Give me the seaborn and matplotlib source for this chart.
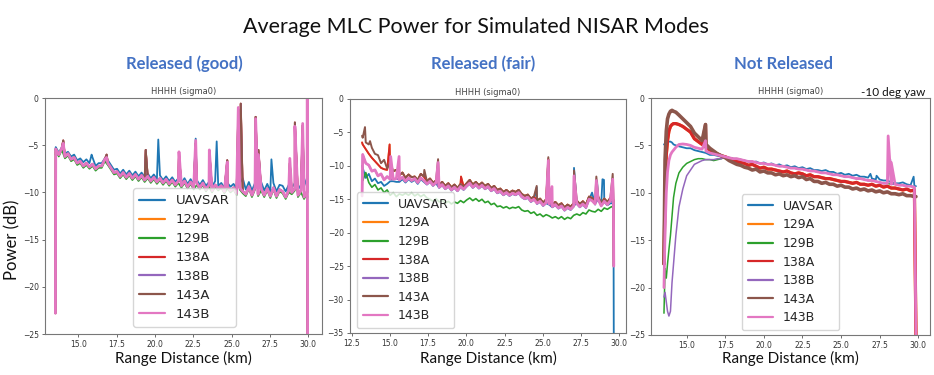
import numpy as np
import pandas as pd
import matplotlib
matplotlib.use("Agg")
import matplotlib.pyplot as plt
import seaborn as sns

# ---------------- data ----------------
modes = ["UAVSAR", "129A", "129B", "138A", "138B", "143A", "143B"]

# ===== Panel 1 "Released (good)": band sampled every 0.2 km from 13.53 km =====
p1_start, p1_step = 13.53, 0.2
p1_head_x = [13.51]
p1_tail_x = [29.94, 29.96]
p1_uavsar = [-5.2, -5.8, -5.2, -5.9, -5.7,
             -6.2, -6.0, -6.6, -6.4, -6.8,
             -6.5, -6.9, -6.3, -7.2, -6.9,
             -6.9, -6.4, -6.6, -7.1, -7.6,
             -7.5, -8.0, -7.6, -8.1, -7.7,
             -8.2, -7.8, -8.3, -7.9, -8.4,
             -8.0, -8.5, -8.1, -8.6, -8.2,
             -8.7, -8.3, -8.8, -8.4, -8.9,
             -8.5, -9.0, -8.5, -9.1, -8.6,
             -9.2, -8.7, -9.2, -8.7, -9.3,
             -8.9, -9.4, -8.8, -9.3, -9.0,
             -9.5, -9.0, -9.4, -9.1, -9.6,
             -9.0, -8.5, -9.7, -8.9, -9.8,
             -9.0, -9.6, -8.9, -9.8, -9.1,
             -9.9, -9.0, -9.9, -9.2, -9.3,
             -9.9, -9.2, -9.5, -9.0, -9.7,
             -9.2, -8.5, -9.4]
p1_129b = [-5.6, -6.2, -5.5, -6.4, -6.1,
           -6.7, -6.5, -7.1, -6.9, -7.4,
           -7.1, -7.5, -7.2, -7.7, -7.4,
           -7.4, -6.7, -7.1, -7.6, -8.1,
           -8.0, -8.5, -8.1, -8.6, -8.2,
           -8.7, -8.3, -8.8, -8.4, -8.9,
           -8.5, -9.0, -8.6, -9.1, -8.7,
           -9.2, -8.8, -9.3, -8.9, -9.4,
           -9.0, -9.5, -9.0, -9.6, -9.1,
           -9.7, -9.2, -9.7, -9.2, -9.9,
           -9.4, -10.0, -9.4, -9.8, -9.5,
           -10.1, -9.6, -10.0, -9.7, -10.3,
           -9.7, -10.1, -10.4, -9.6, -10.5,
           -9.7, -10.4, -9.8, -10.5, -9.8,
           -10.6, -9.7, -10.6, -9.9, -10.1,
           -10.7, -10.0, -10.2, -9.8, -10.5,
           -10.0, -10.7, -10.1]
p1_143b = [-5.4, -6.0, -5.3, -6.2, -5.9,
           -6.5, -6.3, -6.9, -6.7, -7.2,
           -6.9, -7.3, -7.0, -7.5, -7.2,
           -7.2, -6.5, -6.9, -7.4, -7.9,
           -7.8, -8.3, -7.9, -8.4, -8.0,
           -8.5, -8.1, -8.6, -8.2, -8.7,
           -8.3, -8.8, -8.4, -8.9, -8.5,
           -9.0, -8.6, -9.1, -8.7, -9.2,
           -8.8, -9.3, -8.8, -9.4, -8.9,
           -9.5, -9.0, -9.5, -9.0, -9.7,
           -9.2, -9.8, -9.2, -9.6, -9.3,
           -9.9, -9.4, -9.8, -9.5, -10.1,
           -9.5, -9.9, -10.2, -9.4, -10.3,
           -9.5, -10.2, -9.6, -10.3, -9.6,
           -10.4, -9.5, -10.4, -9.7, -9.9,
           -10.5, -9.8, -10.0, -9.6, -10.3,
           -9.8, -10.5, -9.9]
p1_mid = p1_143b  # 129A/138A/138B/143A lie on the 143B band
p1_head = {"UAVSAR": [-5.5], "129B": [-6.0], "mid": [-22.8], "143B": [-22.8]}
p1_tail = {"UAVSAR": [-9.5, -9.5], "129B": [-10.5, -10.5],
           "mid": [-20.0, -25.0], "143B": [0.0, -25.0]}
# narrow spikes (km, dB)
p1_spk_uavsar = [(15.87, -6.0), (20.22, -4.4), (22.66, -4.3), (24.03, -4.6), (25.44, -3.5),
                 (26.57, -3.5), (26.65, -6.0), (27.6, -6.5), (29.64, -4.0)]
p1_spk_129b = [(25.44, -2.5), (26.57, -3.5), (29.13, -3.7)]
p1_spk_mid = [(14.02, -4.5), (16.85, -6.0), (19.4, -5.5), (21.57, -6.0), (22.66, -4.8),
              (23.55, -5.6), (24.72, -6.6), (25.44, -1.2), (25.6, -0.6), (26.57, -2.0),
              (26.75, -5.5), (28.8, -6.9), (29.13, -2.6), (29.64, -2.9)]
p1_spk_143b = [(14.02, -4.8), (16.85, -6.3), (21.57, -5.7), (22.66, -4.5), (23.55, -5.5),
               (24.72, -6.8), (25.44, -1.0), (26.57, -2.2), (26.75, -6.0), (28.8, -6.4),
               (29.13, -3.0), (29.64, -2.7)]

# ===== Panel 2 "Released (fair)": band sampled every 0.2 km from 13.22 km =====
p2_start, p2_step = 13.22, 0.2
p2_head_x = [13.18]
p2_tail_x = [29.64]
p2_uavsar = [-10.3, -11.8, -11.2, -12.3, -11.9,
             -12.6, -12.4, -13.0, -12.7, -12.3,
             -12.3, -12.4, -12.4, -12.0, -12.5,
             -12.0, -12.4, -12.1, -12.7, -12.0,
             -12.4, -12.8, -12.4, -13.0, -12.6,
             -13.3, -12.9, -13.5, -13.1, -13.7,
             -13.3, -13.8, -13.2, -13.6, -13.1,
             -12.7, -13.3, -12.9, -13.4, -13.0,
             -13.5, -13.2, -13.8, -13.5, -14.1,
             -13.9, -14.4, -14.1, -14.5, -14.2,
             -14.4, -14.1, -14.7, -15.0, -14.8,
             -15.4, -15.1, -15.7, -15.4, -16.0,
             -15.6, -15.8, -16.2, -15.9, -16.4,
             -16.1, -16.7, -16.3, -16.6, -16.1,
             -15.7, -16.2, -15.8, -16.3, -15.1,
             -14.0, -15.8, -15.2, -15.8, -15.4,
             -15.9, -15.6, -15.6]
p2_129b = [-12.2, -11.0, -12.5, -13.2, -12.8,
           -13.6, -13.3, -14.0, -13.6, -14.4,
           -14.0, -14.6, -14.2, -14.4, -14.1,
           -14.4, -14.0, -14.5, -14.2, -14.6,
           -14.3, -14.8, -15.0, -15.3, -14.9,
           -15.4, -15.1, -15.6, -15.3, -15.7,
           -15.4, -15.6, -15.2, -15.5, -15.1,
           -14.8, -15.2, -14.9, -15.3, -15.0,
           -15.5, -15.3, -15.8, -15.6, -16.1,
           -16.0, -16.3, -16.1, -16.4, -16.2,
           -16.3, -16.1, -16.6, -16.8, -16.7,
           -17.1, -16.9, -17.4, -17.2, -17.6,
           -17.3, -17.5, -17.8, -17.6, -17.9,
           -17.6, -18.0, -17.7, -17.9, -17.4,
           -17.2, -17.4, -17.0, -17.2, -16.6,
           -16.8, -16.9, -16.5, -16.8, -16.3,
           -16.5, -16.2, -16.0]
p2_143a = [-5.8, -6.5, -6.8, -7.3, -8.2,
           -8.4, -9.6, -9.1, -10.4, -9.5,
           -10.8, -10.6, -11.4, -11.0, -11.8,
           -11.3, -11.7, -11.6, -12.1, -11.2,
           -11.6, -12.3, -11.9, -12.5, -12.2,
           -12.8, -12.4, -13.0, -12.6, -13.2,
           -12.8, -13.3, -12.7, -13.1, -12.6,
           -12.1, -12.8, -12.4, -12.9, -12.5,
           -13.0, -12.7, -13.3, -13.0, -13.6,
           -13.4, -13.9, -13.6, -14.0, -13.7,
           -13.9, -13.6, -14.2, -14.5, -14.3,
           -14.9, -14.6, -15.2, -14.9, -15.5,
           -15.0, -15.3, -15.7, -15.4, -15.9,
           -15.6, -16.2, -15.8, -16.1, -15.6,
           -15.2, -15.7, -15.3, -15.8, -14.6,
           -14.8, -15.3, -14.6, -15.6, -14.9,
           -15.4, -14.8, -15.1]
p2_138a_first = [-6.8, -7.5, -8.2, -8.8, -9.3,
                 -9.8, -10.3, -10.5, -10.6, -10.9]
p2_143b = [-8.3, -9.6, -9.9, -10.8, -10.6,
           -11.5, -11.2, -12.1, -11.6, -12.0,
           -12.0, -11.9, -12.1, -11.7, -12.3,
           -11.8, -12.2, -11.9, -12.5, -11.8,
           -12.2, -12.7, -12.3, -12.9, -12.5,
           -13.2, -12.8, -13.4, -13.0, -13.6,
           -13.2, -13.7, -13.1, -13.5, -13.0,
           -12.6, -13.2, -12.8, -13.3, -12.9,
           -13.4, -13.1, -13.7, -13.4, -14.0,
           -13.8, -14.3, -14.0, -14.4, -14.1,
           -14.3, -14.0, -14.6, -14.9, -14.7,
           -15.3, -15.0, -15.6, -15.3, -15.9,
           -15.5, -15.7, -16.1, -15.8, -16.3,
           -16.0, -16.6, -16.2, -16.5, -16.0,
           -15.6, -16.1, -15.7, -16.2, -15.0,
           -15.2, -15.7, -15.0, -16.0, -15.3,
           -15.8, -15.2, -15.5]
p2_head = {"UAVSAR": [-10.0], "129B": [-12.0], "138A": [-6.5], "143A": [-5.5], "143B": [-14.5]}
p2_tail = {"UAVSAR": [-35.0], "129B": [-16.0], "138A": [-25.0], "143A": [-25.0], "143B": [-25.0]}
p2_spk_uavsar = [(24.6, -13.2), (27.04, -10.3), (28.55, -12.3), (28.9, -12.0), (29.0, -12.1)]
p2_spk_138a = [(14.98, -6.8), (19.65, -11.6), (25.36, -9.0)]
p2_spk_143a = [(13.37, -4.2), (13.7, -6.3), (17.25, -10.6), (18.15, -9.0), (24.6, -13.0),
               (25.36, -8.7), (27.04, -10.7), (28.5, -11.6), (29.57, -11.2)]
p2_spk_143b = [(15.05, -8.6), (15.6, -8.6), (18.15, -9.5), (25.36, -9.2), (25.6, -13.1),
               (27.04, -11.5), (28.5, -12.2), (29.57, -12.0)]

# ===== Panel 3 "Not Released" =====
p3_x_head = [13.53, 13.6, 13.68, 13.76, 13.85, 13.95, 14.05, 14.15, 14.3]
p3_grid_start, p3_grid_step = 14.5, 0.25
p3_x_end = [29.85]
p3_uavsar = [-4.9, -4.8, -4.8, -4.7, -4.6, -4.6, -4.7, -4.9, -5.0,
             -5.1, -5.2, -5.3, -5.3,
             -5.5, -5.6, -5.7, -5.8,
             -6.0, -6.0, -6.1, -6.2,
             -6.2, -6.3, -6.4, -6.5,
             -6.5, -6.6, -6.7, -6.8,
             -6.7, -6.9, -6.8, -7.0,
             -6.9, -7.1, -7.0, -7.2,
             -7.1, -7.3, -7.2, -7.4,
             -7.3, -7.5, -7.4, -7.6,
             -7.6, -7.7, -7.6, -7.8,
             -7.8, -8.0, -7.9, -8.1,
             -8.0, -8.2, -8.1, -8.3,
             -8.3, -8.4, -8.5, -8.6,
             -8.6, -8.7, -8.7, -8.9,
             -9.0, -9.0, -8.9, -9.1,
             -9.2, -9.3,
             -9.3]
p3_138a = [-17.5, -9.5, -6.0, -4.5, -3.5, -3.0, -2.8, -2.7, -2.7,
           -2.8, -3.0, -3.3, -3.6,
           -4.3, -4.6, -4.9, -5.2,
           -5.5, -5.7, -5.9, -6.1,
           -6.2, -6.4, -6.5, -6.7,
           -6.8, -6.9, -7.1, -7.0,
           -7.2, -7.4, -7.3, -7.5,
           -7.5, -7.6, -7.7, -7.8,
           -7.7, -7.9, -8.0, -7.9,
           -8.0, -8.2, -8.1, -8.3,
           -8.3, -8.4, -8.5, -8.5,
           -8.6, -8.7, -8.8, -8.8,
           -8.9, -9.0, -8.9, -9.1,
           -9.1, -9.2, -9.1, -9.3,
           -9.2, -9.4, -9.3, -9.5,
           -9.5, -9.6, -9.7, -9.6,
           -9.8, -9.7,
           -25.0]
p3_143a = [-17.5, -6.5, -3.5, -2.2, -1.7, -1.4, -1.3, -1.4, -1.5,
           -1.8, -2.2, -2.6, -3.0,
           -3.7, -4.1, -4.5, -4.9,
           -5.3, -5.6, -5.9, -6.1,
           -6.3, -6.6, -6.8, -7.0,
           -7.1, -7.3, -7.4, -7.6,
           -7.5, -7.8, -7.7, -7.9,
           -7.9, -8.1, -8.0, -8.2,
           -8.1, -8.3, -8.2, -8.4,
           -8.3, -8.6, -8.5, -8.8,
           -8.8, -9.0, -8.9, -9.1,
           -9.1, -9.3, -9.2, -9.4,
           -9.4, -9.6, -9.5, -9.7,
           -9.6, -9.8, -9.7, -9.9,
           -9.8, -10.0, -9.9, -10.1,
           -10.1, -10.2, -10.1, -10.3,
           -10.3, -10.4,
           -10.4]
p3_143b = [-20.0, -14.0, -10.0, -7.8, -6.6, -6.0, -5.7, -5.5, -5.2,
           -4.9, -4.85, -4.9, -5.0,
           -5.2, -5.3, -5.4, -5.6,
           -5.8, -5.9, -6.0, -6.1,
           -6.2, -6.3, -6.4, -6.4,
           -6.5, -6.6, -6.7, -6.7,
           -6.8, -6.9, -6.9, -7.0,
           -7.0, -7.1, -7.2, -7.2,
           -7.3, -7.4, -7.4, -7.5,
           -7.5, -7.6, -7.7, -7.7,
           -7.8, -7.9, -7.9, -8.0,
           -8.1, -8.1, -8.2, -8.3,
           -8.3, -8.4, -8.5, -8.5,
           -8.6, -8.7, -8.7, -8.8,
           -8.9, -9.0, -9.0, -9.1,
           -9.1, -9.2, -9.2, -9.3,
           -9.3, -9.4,
           -25.0]
p3_129b_first = [-22.7, -18.0, -19.0, -17.5, -16.0, -14.5, -12.5, -10.5, -9.0,
                 -7.9, -7.3, -6.9, -6.7,
                 -6.5, -6.4, -6.4, -6.5,
                 -6.5, -6.6, -6.5, -6.4]
p3_138b_first = [-21.0, -20.5, -21.5, -22.5, -23.0, -22.5, -19.5, -17.5, -14.5,
                 -11.5, -9.6, -8.2, -7.6,
                 -7.0, -6.8, -6.6, -6.5,
                 -6.5, -6.5, -6.4, -6.4]
p3_spk_uavsar = [(26.9, -8.0), (27.3, -8.2), (29.7, -8.3)]
p3_spk_138a = [(16.22, -2.8)]
p3_spk_138b = [(28.2, -6.5)]
p3_spk_143b = [(16.22, -4.5), (28.05, -4.0), (28.25, -6.8)]

# ---------------- assemble tables ----------------
def grid(start, step, n):
    return list(np.round(start + step * np.arange(n), 3))


def frame(x, y, spikes, mode):
    n = min(len(x), len(y))
    d = pd.DataFrame({"range_km": list(x[:n]) + [s[0] for s in spikes],
                      "power_db": list(y[:n]) + [s[1] for s in spikes]})
    d = d.sort_values("range_km", kind="stable").reset_index(drop=True)
    d["mode"] = mode
    return d


x1 = p1_head_x + grid(p1_start, p1_step, len(p1_143b)) + p1_tail_x
df1 = pd.concat([
    frame(x1, p1_head["UAVSAR"] + p1_uavsar + p1_tail["UAVSAR"], p1_spk_uavsar, "UAVSAR"),
    frame(x1, p1_head["mid"] + p1_mid + p1_tail["mid"], p1_spk_mid, "129A"),
    frame(x1, p1_head["129B"] + p1_129b + p1_tail["129B"], p1_spk_129b, "129B"),
    frame(x1, p1_head["mid"] + p1_mid + p1_tail["mid"], p1_spk_mid, "138A"),
    frame(x1, p1_head["mid"] + p1_mid + p1_tail["mid"], p1_spk_mid, "138B"),
    frame(x1, p1_head["mid"] + p1_mid + p1_tail["mid"], p1_spk_mid, "143A"),
    frame(x1, p1_head["143B"] + p1_143b + p1_tail["143B"], p1_spk_143b, "143B"),
], ignore_index=True)

x2 = p2_head_x + grid(p2_start, p2_step, len(p2_143a)) + p2_tail_x
p2_138a = p2_138a_first + p2_143a[len(p2_138a_first):]
df2 = pd.concat([
    frame(x2, p2_head["UAVSAR"] + p2_uavsar + p2_tail["UAVSAR"], p2_spk_uavsar, "UAVSAR"),
    frame(x2, p2_head["138A"] + p2_138a + p2_tail["138A"], p2_spk_138a, "129A"),
    frame(x2, p2_head["129B"] + p2_129b + p2_tail["129B"], [], "129B"),
    frame(x2, p2_head["138A"] + p2_138a + p2_tail["138A"], p2_spk_138a, "138A"),
    frame(x2, p2_head["143B"] + p2_143b + p2_tail["143B"], [], "138B"),
    frame(x2, p2_head["143A"] + p2_143a + p2_tail["143A"], p2_spk_143a, "143A"),
    frame(x2, p2_head["143B"] + p2_143b + p2_tail["143B"], p2_spk_143b, "143B"),
], ignore_index=True)

n3 = len(p3_143b) - len(p3_x_head) - len(p3_x_end)
x3 = p3_x_head + grid(p3_grid_start, p3_grid_step, n3) + p3_x_end
k = len(p3_129b_first)
df3 = pd.concat([
    frame(x3, p3_uavsar, p3_spk_uavsar, "UAVSAR"),
    frame(x3, p3_138a, [], "129A"),
    frame(x3, p3_129b_first + p3_143b[k:], [], "129B"),
    frame(x3, p3_138a, p3_spk_138a, "138A"),
    frame(x3, p3_138b_first + p3_143b[k:], p3_spk_138b, "138B"),
    frame(x3, p3_143a, p3_spk_138a, "143A"),
    frame(x3, p3_143b, p3_spk_143b, "143B"),
], ignore_index=True)

# ---------------- drawing ----------------
sns.set_style("white")
plt.rcParams["font.family"] = ["DejaVu Sans"]
palette = dict(zip(modes, sns.color_palette("tab10", 7)))

W, H = 934, 375
fig = plt.figure(figsize=(W / 100, H / 100), dpi=100)


def rect(l, t, r, b):
    return [l / W, 1 - b / H, (r - l) / W, (b - t) / H]


lw12 = {"UAVSAR": 1.3, "129A": 1.3, "129B": 1.2, "138A": 1.3, "138B": 1.3,
        "143A": 1.4, "143B": 2.0}
panels = [
    dict(df=df1, rect=rect(45, 98, 322, 334), xlim=(12.83, 30.9), ylim=(-25, 0),
         xticks=[15, 17.5, 20, 22.5, 25, 27.5, 30], yticks=[0, -5, -10, -15, -20, -25],
         lw=lw12, leg=(0.318, 0.03), legfs=9.5),
    dict(df=df2, rect=rect(350, 99, 626, 333), xlim=(12.39, 30.44), ylim=(-35, 0),
         xticks=[12.5, 15, 17.5, 20, 22.5, 25, 27.5, 30],
         yticks=[0, -5, -10, -15, -20, -25, -30, -35],
         lw=lw12, leg=(0.025, 0.021), legfs=9),
    dict(df=df3, rect=rect(651, 98, 930, 335), xlim=(12.69, 30.76), ylim=(-25, 0),
         xticks=[15, 17.5, 20, 22.5, 25, 27.5, 30], yticks=[0, -5, -10, -15, -20, -25],
         lw={"UAVSAR": 1.3, "129A": 2.2, "129B": 1.1, "138A": 2.3, "138B": 1.1,
             "143A": 2.6, "143B": 2.0}, leg=(0.326, 0.021), legfs=9),
]

for p in panels:
    ax = fig.add_axes(p["rect"])
    d = p["df"]
    for m in modes:
        sns.lineplot(data=d[d["mode"] == m], x="range_km", y="power_db", color=palette[m],
                     linewidth=p["lw"][m], estimator=None, sort=False, ax=ax, label=m)
    ax.set_xlim(*p["xlim"])
    ax.set_ylim(*p["ylim"])
    ax.set_xticks(p["xticks"])
    ax.set_xticklabels([f"{t:.1f}" for t in p["xticks"]])
    ax.set_yticks(p["yticks"])
    ax.set_yticklabels([f"{t:d}".replace("-", "\u2212") for t in p["yticks"]])
    ax.tick_params(bottom=True, left=True, labelsize=5.5, length=2.5, width=0.6,
                   colors="#555555", labelcolor="#333333", pad=2)
    for s in ax.spines.values():
        s.set_color("#777777")
        s.set_linewidth(0.8)
    ax.set_xlabel("")
    ax.set_ylabel("")
    ax.set_title("HHHH (sigma0)", fontsize=6, color="#444444", pad=3)
    leg = ax.legend(loc="lower left", bbox_to_anchor=p["leg"], borderaxespad=0,
                    fontsize=p["legfs"], frameon=True, handlelength=2.0, fancybox=True,
                    edgecolor="#cccccc", labelspacing=0.45, borderpad=0.45)
    for ln in leg.get_lines():
        ln.set_linewidth(1.6)

fig.text(476 / W, 1 - 27 / H, "Average MLC Power for Simulated NISAR Modes",
         ha="center", va="center", fontsize=15.5, family="Lato", color="#111111")
blue = "#4472C4"
for cx, t in [(184, "Released (good)"), (483, "Released (fair)"), (783, "Not Released")]:
    fig.text(cx / W, 1 - 64 / H, t, ha="center", va="center", fontsize=12,
             family="Lato", fontweight="bold", color=blue)
fig.text(925 / W, 1 - 92 / H, "-10 deg yaw", ha="right", va="center", fontsize=8.5,
         family="Lato", color="#111111")
fig.text(12 / W, 1 - 240 / H, "Power (dB)", ha="center", va="center", rotation=90,
         fontsize=12, family="Lato", color="#111111")
for cx in [183, 488, 790]:
    fig.text(cx / W, 1 - 358 / H, "Range Distance (km)", ha="center", va="center",
             fontsize=11, family="Lato", color="#111111")

fig.savefig("out.png", dpi=100)
